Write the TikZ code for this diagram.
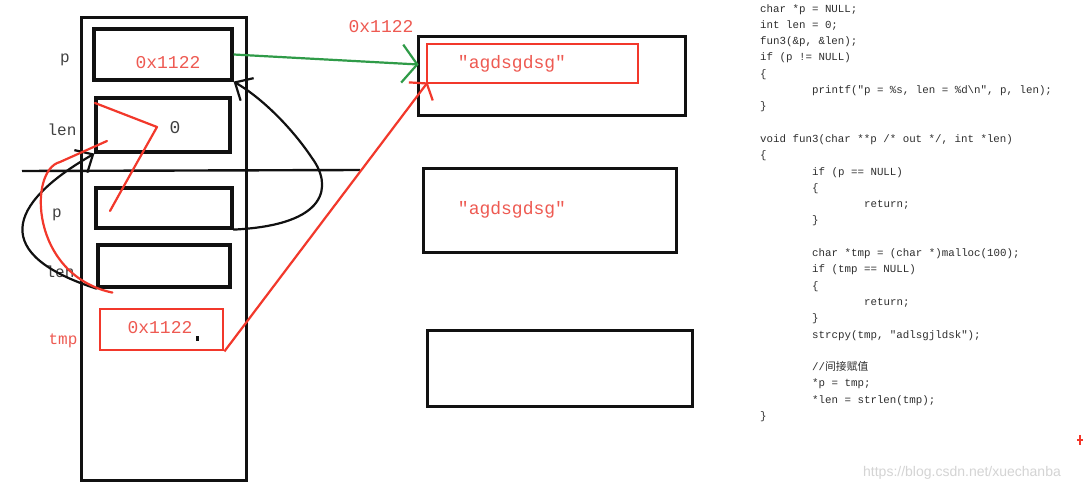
\documentclass[tikz,border=0pt]{standalone}
\usepackage{fontspec}
\setmonofont{Liberation Mono}
\newfontfamily\cjk{Noto Sans CJK SC}
\newfontfamily\wmfont{Liberation Sans}
\usetikzlibrary{arrows.meta,positioning}
\definecolor{ink}{HTML}{111111}
\definecolor{memred}{HTML}{F2382B}
\definecolor{valred}{HTML}{EE5A52}
\definecolor{memgreen}{HTML}{2F9B48}
\definecolor{codegray}{HTML}{2E2E2E}
\definecolor{wmgray}{HTML}{D4D4D4}
\tikzset{
  frame/.style={draw=ink,line width=3pt,inner sep=0pt},
  cell/.style={draw=ink,line width=3.2pt,inner sep=0pt},
  redcell/.style={draw=memred,line width=2.8pt,inner sep=0pt},
  varlabel/.style={font=\ttfamily\fontsize{16}{16}\selectfont,text=ink!80,inner sep=0pt},
  redlabel/.style={font=\ttfamily\fontsize{16}{16}\selectfont,text=valred,inner sep=0pt},
  valtext/.style={font=\ttfamily\fontsize{18}{18}\selectfont,text=valred,inner sep=0pt},
  greenarr/.style={-{Straight Barb[length=15pt,width=38pt]},line width=2.2pt,draw=memgreen},
  redarr/.style={-{Straight Barb[length=10pt,width=30pt]},line width=2.2pt,draw=memred},
  inkarr/.style={-{Straight Barb[length=14pt,width=26pt]},line width=2.2pt,draw=ink},
  freehand/.style={line width=2.2pt,line cap=round,line join=round}
}
\begin{document}
\begin{tikzpicture}[x=1pt,y=-1pt]
  \useasboundingbox[fill=white] (0,0) rectangle (1083,492);
  % stack frame
  \node[frame,minimum width=165pt,minimum height=462pt] (stack) at (163.5,249) {};
  \node[cell,minimum width=138pt,minimum height=51pt] (pcell) at (163,54.5) {};
  \node[cell,minimum width=134pt,minimum height=54pt] (lencell) at (163,125) {};
  \node[cell,minimum width=136pt,minimum height=40pt] (pcellb) at (164,208) {};
  \node[cell,minimum width=132pt,minimum height=42pt] (lencellb) at (164,266) {};
  \node[redcell,minimum width=123pt,minimum height=41pt] (tmpcell) at (161.5,329.5) {};
  \node[valtext] (pval) at (168,63) {0x1122};
  \node[valtext,text=ink!80] (lenval) at (175,128) {0};
  \node[valtext] (tmpval) at (160,328) {0x1122};
  \fill[ink] (196,336) rectangle (199,341);
  \node[varlabel] (plabel) at (65,60) {p};
  \node[varlabel] (lenlabel) at (62,130) {len};
  \node[varlabel] (plabelb) at (57,215) {p};
  \node[varlabel] (lenlabelb) at (60,272) {len};
  \node[redlabel] (tmplabel) at (63,341) {tmp};
  % heap
  \node[frame,minimum width=267pt,minimum height=79pt] (heapa) at (551.5,76.5) {};
  \node[redcell,minimum width=211pt,minimum height=39pt] (heapstr) at (532.5,63.5) {};
  \node[valtext] (stra) at (512,64) {″agdsgdsg″};
  \node[frame,minimum width=253pt,minimum height=84pt] (heapb) at (549.5,210) {};
  \node[valtext] (strb) at (512,210) {″agdsgdsg″};
  \node[frame,minimum width=265pt,minimum height=76pt] (heapc) at (559.5,368) {};
  \node[valtext] (addr) at (381,27) {0x1122};
  % divider
  \draw[ink,line width=2.4pt] (22,171) -- (360,170);
  % pointers
  \draw[greenarr] (pcell.east) -- ([xshift=-7pt,yshift=-1pt]heapstr.west);
  \draw[redarr] (tmpcell.south east) -- ([xshift=2pt,yshift=2pt]heapstr.south west);
  \draw[inkarr,freehand] (pcellb.south east) .. controls (330,225) and (332,185) .. (312,158)
    .. controls (292,128) and (262,98) .. (pcell.south east);
  \draw[inkarr,freehand] (lencellb.south west) .. controls (-8,255) and (5,205) .. (lencell.south west);
  \draw[memred,freehand] ([xshift=16pt,yshift=-4pt]lencellb.south west) .. controls (30,275) and (28,170) .. (60,162) -- (107,141);
  \draw[memred,freehand] (110,211) .. controls (130,175) .. (157,127) -- (95,103);
  % code
  \node[anchor=north west,inner sep=0pt,align=left,text=codegray,
        font=\ttfamily\fontsize{10.8}{16.3}\selectfont] (code) at (760,4) {%
    char *p = NULL;\\
    int len = 0;\\
    fun3(\&p, \&len);\\
    if (p != NULL)\\
    \{\\
    \hspace*{52pt}printf("p = \%s, len = \%d\textbackslash n", p, len);\\
    \}\\
    \mbox{}\\
    void fun3(char **p /* out */, int *len)\\
    \{\\
    \hspace*{52pt}if (p == NULL)\\
    \hspace*{52pt}\{\\
    \hspace*{104pt}return;\\
    \hspace*{52pt}\}\\
    \mbox{}\\
    \hspace*{52pt}char *tmp = (char *)malloc(100);\\
    \hspace*{52pt}if (tmp == NULL)\\
    \hspace*{52pt}\{\\
    \hspace*{104pt}return;\\
    \hspace*{52pt}\}\\
    \hspace*{52pt}strcpy(tmp, "adlsgjldsk");\\
    \mbox{}\\
    \hspace*{52pt}//{\cjk 间接赋值}\\
    \hspace*{52pt}*p = tmp;\\
    \hspace*{52pt}*len = strlen(tmp);\\
    \}};
  \node[text=wmgray,font=\wmfont\fontsize{14}{14}\selectfont,inner sep=0pt] (mark) at (962,473) {https://blog.csdn.net/xuechanba};
  \draw[memred,line width=1.6pt] (1077,440) -- (1083,440) (1080,435) -- (1080,445);
\end{tikzpicture}
\end{document}
